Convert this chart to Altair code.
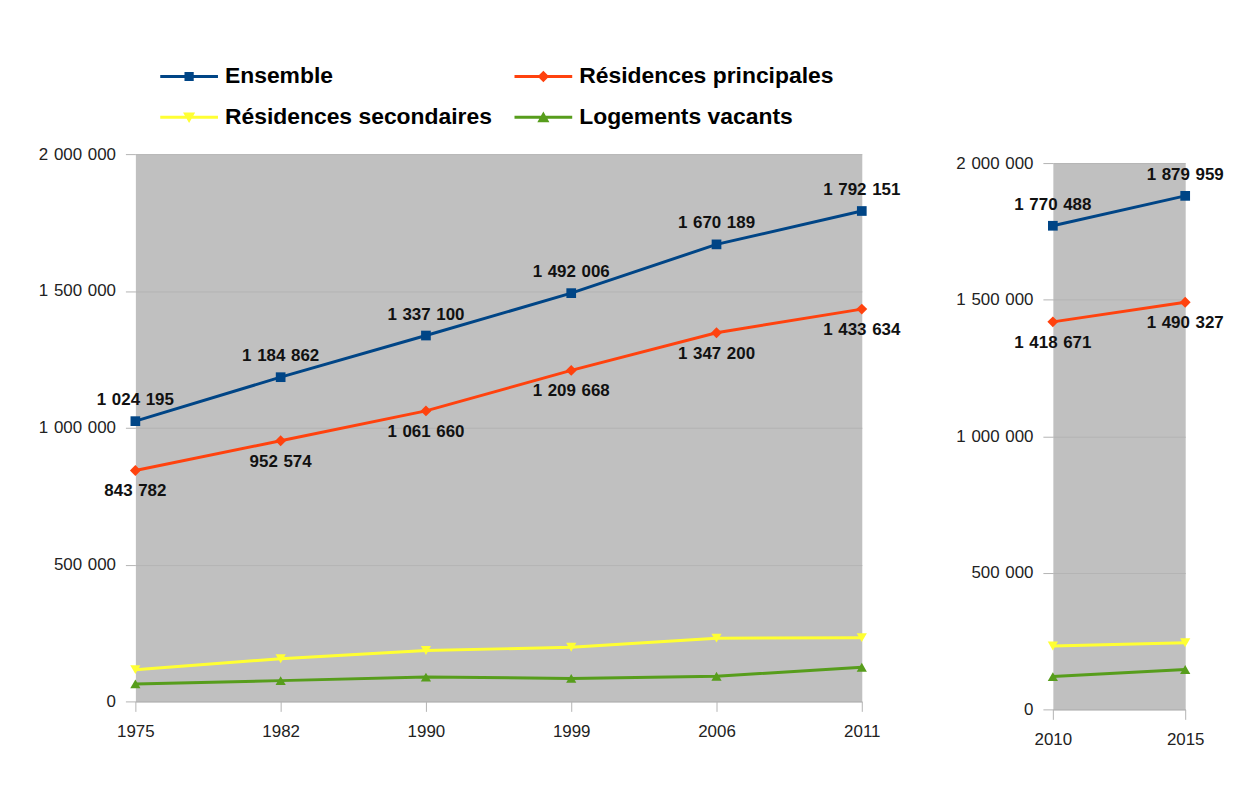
import altair as alt
import pandas as pd

# ---- data ----
series = ["Ensemble", "Résidences principales", "Résidences secondaires", "Logements vacants"]
colors = ["#004586", "#ff420e", "#ffff33", "#579d1c"]
shapes = ["square", "diamond", "triangle-down", "triangle-up"]
shape_sizes = [95, 120, 105, 105]

years_a = ["1975", "1982", "1990", "1999", "2006", "2011"]
ensemble_a = [1024195, 1184862, 1337100, 1492006, 1670189, 1792151]
principales_a = [843782, 952574, 1061660, 1209668, 1347200, 1433634]
secondaires_a = [116000, 156000, 186000, 198000, 231000, 233000]
vacants_a = [64000, 76000, 89000, 84000, 92000, 125000]

years_b = ["2010", "2015"]
ensemble_b = [1770488, 1879959]
principales_b = [1418671, 1490327]
secondaires_b = [232000, 244000]
vacants_b = [120000, 146000]

y_ticks = [0, 500000, 1000000, 1500000, 2000000]

SEP = "\u2004"


def fmt(v):
    return f"{v:,}".replace(",", SEP)


def build(years, ens, pri, sec, vac):
    rows = []
    for name, vals in zip(series, [ens, pri, sec, vac]):
        for yr, v in zip(years, vals):
            rows.append({"annee": yr, "serie": name, "valeur": v, "lab": fmt(v)})
    return pd.DataFrame(rows)


df_a = build(years_a, ensemble_a, principales_a, secondaires_a, vacants_a)
df_b = build(years_b, ensemble_b, principales_b, secondaires_b, vacants_b)

# legend symbols: line + marker as custom paths
LINE = "M-1,-0.05L1,-0.05L1,0.05L-1,0.05Z"
legend_paths = [
    LINE + "M-0.16,-0.16L0.16,-0.16L0.16,0.16L-0.16,0.16Z",
    LINE + "M0,-0.2L0.2,0L0,0.2L-0.2,0Z",
    LINE + "M-0.21,-0.17L0.21,-0.17L0,0.2Z",
    LINE + "M0,-0.2L0.21,0.17L-0.21,0.17Z",
]

legend = alt.Legend(
    title=None,
    orient="none",
    direction="horizontal",
    legendX=25,
    legendY=-107,
    columns=2,
    columnPadding=22,
    rowPadding=-7,
    labelFont="Liberation Sans",
    labelFontSize=23,
    labelFontWeight="bold",
    labelColor="#000000",
    labelLimit=600,
    labelOffset=7,
    symbolSize=3364,
    symbolStrokeWidth=0,
    symbolOpacity=1,
)

label_expr = "replace(replace(format(datum.value, ','), ',', '" + SEP + "'), ',', '" + SEP + "')"
color_scale = alt.Scale(domain=series, range=colors)


def panel(df, w, h, with_legend=False):
    base = alt.Chart(df)
    x = alt.X(
        "annee:O",
        sort=None,
        scale=alt.Scale(type="point", padding=0),
        axis=alt.Axis(title=None, labelAngle=0, grid=False, labelPadding=12),
    )
    y = alt.Y(
        "valeur:Q",
        scale=alt.Scale(domain=[0, 2000000]),
        axis=alt.Axis(title=None, values=y_ticks, labelExpr=label_expr, domain=False, grid=True),
    )
    color = alt.Color("serie:N", sort=series, scale=color_scale, legend=legend)
    layers = [base.mark_line(strokeWidth=3).encode(x=x, y=y, color=color)]
    for s, shp, sz in zip(series, shapes, shape_sizes):
        layers.append(
            base.transform_filter(alt.datum.serie == s)
            .mark_point(filled=True, size=sz, opacity=1, shape=shp)
            .encode(x=x, y=y, color=color)
        )
    layers.append(
        base.transform_filter(alt.datum.serie == "Ensemble").mark_text(
            dy=-21, font="Liberation Sans", fontSize=17, fontWeight="bold", color="#111111"
        ).encode(x=x, y=y, text="lab:N")
    )
    layers.append(
        base.transform_filter(alt.datum.serie == "Résidences principales").mark_text(
            dy=21, font="Liberation Sans", fontSize=17, fontWeight="bold", color="#111111"
        ).encode(x=x, y=y, text="lab:N")
    )
    if with_legend:
        layers.append(
            base.transform_filter("false")
            .mark_point(filled=True)
            .encode(
                x=x,
                y=y,
                color=color,
                shape=alt.Shape("serie:N", sort=series, scale=alt.Scale(domain=series, range=legend_paths), legend=legend),
            )
        )
    return alt.layer(*layers).properties(width=w, height=h)


left = panel(df_a, 730, 550, with_legend=True)
right_plot = panel(df_b, 133, 549)
spacer = (
    alt.Chart(df_b)
    .transform_filter("false")
    .mark_point()
    .properties(width=133, height=1, view=alt.ViewBackground(fill="transparent", stroke="transparent"))
)
right = alt.vconcat(spacer, right_plot, spacing=-3)

chart = (
    alt.hconcat(left, right, spacing=53)
    .resolve_scale(x="independent", y="independent")
    .properties(padding={"left": 29, "top": 38, "right": 0, "bottom": 5})
    .configure_view(fill="#c0c0c0", stroke="transparent")
    .configure_axis(
        labelFont="Liberation Sans",
        labelFontSize=17,
        labelColor="#222222",
        tickColor="#b3b3b3",
        tickSize=10,
        labelPadding=10,
        domainColor="#b3b3b3",
        gridColor="#b3b3b3",
    )
)

chart.save("out.html", embed_options={"renderer": "svg", "actions": False})
